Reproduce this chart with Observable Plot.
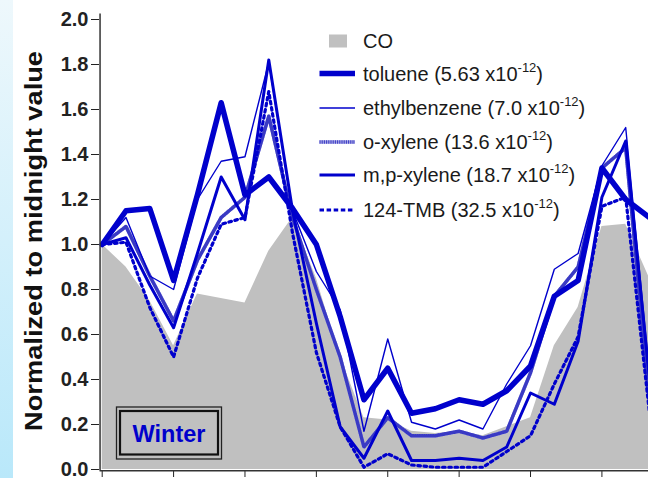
<!DOCTYPE html>
<html>
<head>
<meta charset="utf-8">
<script src="https://cdn.jsdelivr.net/npm/d3@7"></script>
<script src="https://cdn.jsdelivr.net/npm/@observablehq/plot@0.6"></script>
<style>
  html, body { margin: 0; padding: 0; background: #ffffff; }
  #wrap { position: relative; width: 648px; height: 478px; overflow: hidden; }
  #strip { position: absolute; left: 0; top: 0; width: 13px; height: 478px;
           background: linear-gradient(to bottom, #eef8fc, #b9e8fa); }
  #chart { position: absolute; left: 0; top: 0; }
</style>
</head>
<body>
<div id="wrap"><div id="strip"></div><div id="chart"></div></div>
<script>
// ---- data (hour of day, normalized to midnight value) ----
const hours = d3.range(0, 24);
const co =           [1.00, 0.90, 0.75, 0.55, 0.78, 0.76, 0.74, 0.97, 1.12, 0.85, 0.50, 0.23, 0.22, 0.17, 0.16, 0.17, 0.15, 0.19, 0.23, 0.55, 0.72, 1.08, 1.09, 0.85];
const toluene =      [1.00, 1.15, 1.16, 0.84, 1.22, 1.63, 1.22, 1.30, 1.16, 1.00, 0.68, 0.31, 0.45, 0.25, 0.27, 0.31, 0.29, 0.35, 0.46, 0.77, 0.84, 1.34, 1.20, 1.12];
const ethylbenzene = [1.00, 1.12, 0.86, 0.80, 1.20, 1.37, 1.39, 1.81, 1.15, 0.88, 0.71, 0.17, 0.58, 0.21, 0.18, 0.22, 0.18, 0.38, 0.55, 0.89, 0.96, 1.35, 1.52, 0.42];
const oXylene =      [1.00, 1.08, 0.86, 0.66, 0.93, 1.12, 1.21, 1.57, 1.12, 0.80, 0.50, 0.10, 0.23, 0.15, 0.15, 0.17, 0.14, 0.17, 0.43, 0.77, 0.90, 1.34, 1.43, 0.30];
const mpXylene =     [1.00, 1.03, 0.82, 0.63, 0.96, 1.30, 1.11, 1.82, 1.15, 0.65, 0.19, 0.05, 0.26, 0.04, 0.04, 0.05, 0.04, 0.10, 0.34, 0.29, 0.57, 1.21, 1.46, 0.40];
const tmb =          [1.00, 1.01, 0.72, 0.50, 0.85, 1.09, 1.12, 1.68, 1.05, 0.52, 0.19, 0.01, 0.07, 0.02, 0.01, 0.01, 0.01, 0.08, 0.15, 0.38, 0.59, 1.17, 1.21, 0.25];

const yTicks = [0.0, 0.2, 0.4, 0.6, 0.8, 1.0, 1.2, 1.4, 1.6, 1.8, 2.0];
const xTicks = [0, 3, 6, 9, 12, 15, 18, 21];

const legendItems = [
  {name: "CO", coef: null},
  {name: "toluene", coef: "5.63"},
  {name: "ethylbenzene", coef: "7.0"},
  {name: "o-xylene", coef: "13.6"},
  {name: "m,p-xylene", coef: "18.7"},
  {name: "124-TMB", coef: "32.5"}
];
const seasonLabel = "Winter";
const yTitle = "Normalized to midnight value";

// ---- table ----
const rows = hours.map((h, i) => ({
  h, co: co[i], toluene: toluene[i], ethylbenzene: ethylbenzene[i],
  oXylene: oXylene[i], mpXylene: mpXylene[i], tmb: tmb[i]
}));

const BLUE = "#0000cc";
const GRAY = "#c0c0c0";
const FONT = "'Liberation Sans', Arial, sans-serif";

const svg = Plot.plot({
  width: 648,
  height: 478,
  marginLeft: 99,
  marginRight: 0,
  marginTop: 14,
  marginBottom: 8,
  style: {
    background: "transparent",
    fontFamily: FONT,
    fontSize: "20px",
    fontWeight: "bold",
    color: "#222",
    overflow: "visible"
  },
  x: {domain: [0, 23], range: [101.7, 649], ticks: xTicks, tickFormat: () => "", tickSize: 7, label: null},
  y: {domain: [0, 2], range: [469, 19], ticks: yTicks, tickFormat: d3.format(".1f"), tickSize: 8, tickPadding: 3, label: null},
  marks: [
    Plot.areaY(rows, {x: "h", y: "co", fill: GRAY}),
    Plot.line(rows, {x: "h", y: "oXylene", stroke: "#a4a4e4", strokeWidth: 3.5}),
    Plot.line(rows, {x: "h", y: "oXylene", stroke: "#3a3ac4", strokeWidth: 3.5, strokeDasharray: "1,1.2"}),
    Plot.line(rows, {x: "h", y: "tmb", stroke: BLUE, strokeWidth: 3.2, strokeDasharray: "2.6,3.6"}),
    Plot.line(rows, {x: "h", y: "mpXylene", stroke: BLUE, strokeWidth: 3}),
    Plot.line(rows, {x: "h", y: "ethylbenzene", stroke: BLUE, strokeWidth: 1.4}),
    Plot.line(rows, {x: "h", y: "toluene", stroke: BLUE, strokeWidth: 5.5}),
    Plot.ruleX([-0.09], {y1: -0.005, y2: 2.025, stroke: "#333", strokeWidth: 1.5}),
    Plot.ruleY([-0.005], {x1: -0.09, x2: 23, stroke: "#333", strokeWidth: 1.5})
  ]
});

document.getElementById("chart").appendChild(svg);
const s = d3.select(svg);

// y-axis title
s.append("text")
  .attr("transform", "translate(36,241) rotate(-90)")
  .attr("text-anchor", "middle")
  .attr("dominant-baseline", "middle")
  .attr("font-family", FONT)
  .attr("font-weight", "bold")
  .attr("font-size", 24)
  .attr("textLength", 380)
  .attr("lengthAdjust", "spacingAndGlyphs")
  .attr("fill", "#111")
  .text(yTitle);

// legend
const lg = s.append("g")
  .attr("font-family", FONT)
  .attr("font-weight", "normal")
  .attr("text-anchor", "start")
  .attr("fill", "#1a1a1a");
const legendY = [41, 73.5, 108, 142, 175, 210];
const lx0 = 319.5, lx1 = 355, tx = 363;
legendItems.forEach((it, i) => {
  const y = legendY[i];
  if (i === 0) {
    lg.append("rect").attr("x", 329).attr("y", y - 6.5).attr("width", 18).attr("height", 13).attr("fill", GRAY);
  } else if (i === 1) {
    lg.append("line").attr("x1", lx0).attr("x2", lx1).attr("y1", y).attr("y2", y).attr("stroke", BLUE).attr("stroke-width", 5.5);
  } else if (i === 2) {
    lg.append("line").attr("x1", lx0).attr("x2", lx1).attr("y1", y).attr("y2", y).attr("stroke", BLUE).attr("stroke-width", 1.4);
  } else if (i === 3) {
    lg.append("line").attr("x1", lx0).attr("x2", lx1).attr("y1", y).attr("y2", y).attr("stroke", "#a4a4e4").attr("stroke-width", 3.5);
    lg.append("line").attr("x1", lx0).attr("x2", lx1).attr("y1", y).attr("y2", y).attr("stroke", "#3a3ac4").attr("stroke-width", 3.5).attr("stroke-dasharray", "1,1.2");
  } else if (i === 4) {
    lg.append("line").attr("x1", lx0).attr("x2", lx1).attr("y1", y).attr("y2", y).attr("stroke", BLUE).attr("stroke-width", 3);
  } else {
    lg.append("line").attr("x1", lx0).attr("x2", lx1).attr("y1", y).attr("y2", y).attr("stroke", BLUE).attr("stroke-width", 3.2).attr("stroke-dasharray", "4.5,2.6");
  }
  const t = lg.append("text").attr("x", tx).attr("y", y + 7).attr("font-size", 20);
  if (it.coef === null) {
    t.text(it.name);
  } else {
    t.append("tspan").text(`${it.name} (${it.coef} x10`);
    t.append("tspan").attr("font-size", 13).attr("dy", -9).text("-12");
    t.append("tspan").attr("dy", 9).text(")");
  }
});

// season box
const bx = s.append("g");
bx.append("rect").attr("x", 116.5).attr("y", 407).attr("width", 105).attr("height", 52)
  .attr("fill", "none").attr("stroke", "#222").attr("stroke-width", 1.3);
bx.append("rect").attr("x", 120).attr("y", 411).attr("width", 98).attr("height", 43.5)
  .attr("fill", "none").attr("stroke", "#111").attr("stroke-width", 2.2);
bx.append("text").attr("x", 169).attr("y", 434).attr("text-anchor", "middle").attr("dominant-baseline", "central")
  .attr("font-family", FONT).attr("font-weight", "bold")
  .attr("font-size", 23.5).attr("fill", BLUE).text(seasonLabel);
</script>
</body>
</html>
